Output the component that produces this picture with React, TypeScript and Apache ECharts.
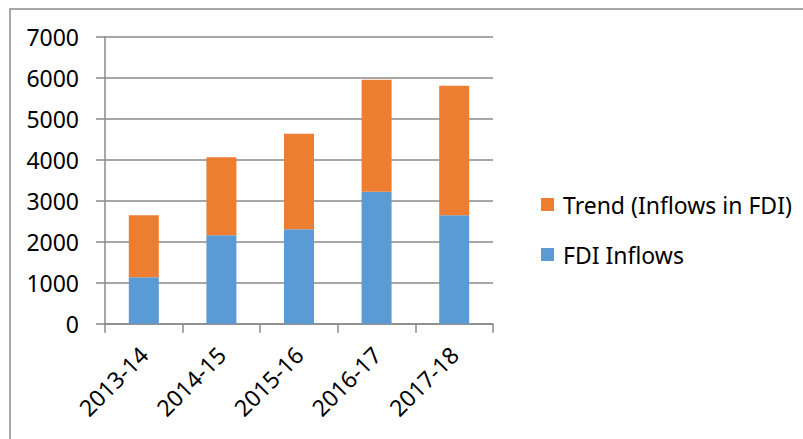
import React, { useEffect, useRef } from "react";
import * as echarts from "echarts";

const categories = ["2013-14", "2014-15", "2015-16", "2016-17", "2017-18"];
const fdiInflows = [1133, 2159, 2305, 3223, 2647];
const trendInflows = [1514, 1904, 2335, 2736, 3165];
const yTicks = { min: 0, max: 7000, interval: 1000 };
const seriesNames = ["Trend (Inflows in FDI)", "FDI Inflows"];

const FONT = "Noto Sans";
const GRAY = "#8a8a8a";

export default function App() {
  const ref = useRef<HTMLDivElement>(null);
  useEffect(() => {
    if (!ref.current) return;
    const chart = echarts.init(ref.current, null, { renderer: "svg" });
    chart.setOption({
      animation: false,
      backgroundColor: "#ffffff",
      textStyle: { fontFamily: FONT },
      graphic: [
        {
          type: "rect",
          shape: { x: 10, y: 9, width: 800, height: 440 },
          style: { fill: "none", stroke: GRAY, lineWidth: 1.5 },
          silent: true,
        },
      ],
      grid: { left: 105, right: 310, top: 37, bottom: 115.3 },
      legend: {
        orient: "vertical",
        left: 536,
        top: 188,
        itemWidth: 13,
        itemHeight: 13,
        itemGap: 27,
        icon: "rect",
        data: seriesNames,
        textStyle: {
          fontFamily: FONT,
          fontSize: 23,
          color: "#000",
          lineHeight: 23,
          padding: [0, 0, 0, 4],
        },
      },
      xAxis: {
        type: "category",
        data: categories,
        axisLine: { show: true, lineStyle: { color: GRAY, width: 1.5 } },
        axisTick: { show: true, length: 9, alignWithLabel: false, lineStyle: { color: GRAY, width: 1.5 } },
        axisLabel: {
          rotate: 45,
          margin: 27,
          color: "#000",
          fontFamily: FONT,
          fontSize: 23,
          interval: 0,
        },
        splitLine: { show: false },
      },
      yAxis: {
        type: "value",
        min: yTicks.min,
        max: yTicks.max,
        interval: yTicks.interval,
        axisLine: { show: true, lineStyle: { color: GRAY, width: 1.5 } },
        axisTick: { show: true, length: 9, lineStyle: { color: GRAY, width: 1.5 } },
        axisLabel: {
          margin: 26,
          color: "#000",
          fontFamily: FONT,
          fontSize: 23,
          formatter: (v: number) => String(v),
        },
        splitLine: { show: true, lineStyle: { color: GRAY, width: 1.5 } },
      },
      series: [
        {
          name: seriesNames[1],
          type: "bar",
          stack: "total",
          barWidth: 30,
          data: fdiInflows,
          itemStyle: { color: "#5B9BD5" },
        },
        {
          name: seriesNames[0],
          type: "bar",
          stack: "total",
          barWidth: 30,
          data: trendInflows,
          itemStyle: { color: "#ED7D31" },
        },
      ],
    });
    return () => chart.dispose();
  }, []);
  return (
    <div
      ref={ref}
      style={{ position: "absolute", left: 0, top: 0, width: 803, height: 439 }}
    />
  );
}
